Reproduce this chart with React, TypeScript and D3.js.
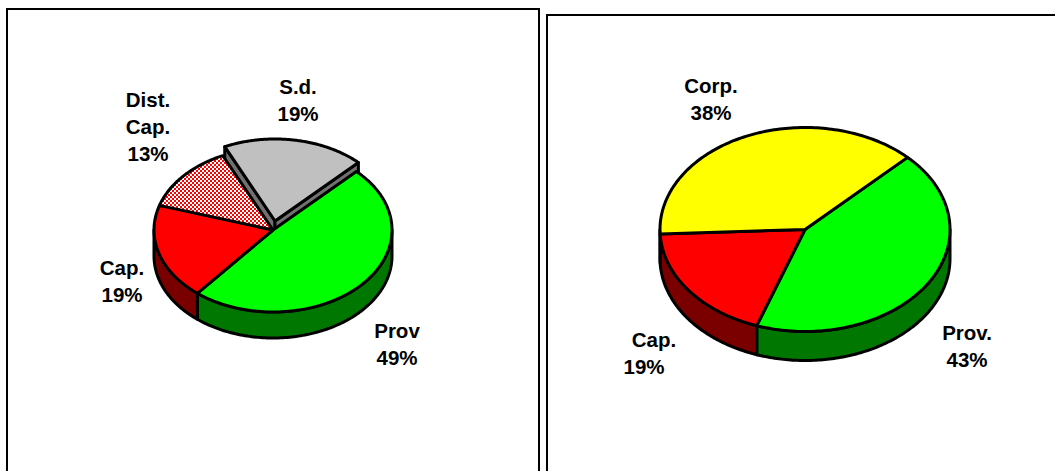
import React from "react";
import * as d3 from "d3";

const leftCategories = ["Prov", "Cap.", "Dist. Cap.", "S.d."];
const leftValues = [48.6, 18.9, 13.2, 19.3];
const leftFills = ["#00ff00", "#ff0000", "url(#checks)", "#c0c0c0"];
const leftWalls = ["#007800", "#7a0000", "#7a0000", "#707070"];

const rightCategories = ["Prov.", "Cap.", "Corp."];
const rightValues = [42.9, 18.9, 38.2];
const rightFills = ["#00ff00", "#ff0000", "#ffff00"];
const rightWalls = ["#007800", "#7a0000", "#808000"];

type Label = { lines: string[]; x: number[]; y: number };
const leftLabels: Label[] = [
  { lines: ["S.d.", "19%"], x: [298, 298], y: 94 },
  { lines: ["Dist.", "Cap.", "13%"], x: [148, 148, 148], y: 106.5 },
  { lines: ["Cap.", "19%"], x: [122, 122], y: 275 },
  { lines: ["Prov", "49%"], x: [397, 397], y: 338 },
];
const rightLabels: Label[] = [
  { lines: ["Corp.", "38%"], x: [711, 711], y: 93 },
  { lines: ["Cap.", "19%"], x: [654, 644], y: 347 },
  { lines: ["Prov.", "43%"], x: [967, 967], y: 340 },
];

const line = d3.line<[number, number]>();
const rad = (d: number) => (d * Math.PI) / 180;

function Pie3D(props: {
  values: number[]; fills: string[]; walls: string[]; names: string[];
  cx: number; cy: number; rx: number; ry: number; depth: number; start: number;
  exploded?: number; dx?: number; dy?: number;
}) {
  const { values, fills, walls, names, cx, cy, rx, ry, depth, start, exploded = -1, dx = 0, dy = 0 } = props;
  const x = d3.scaleLinear().domain([-1, 1]).range([cx - rx, cx + rx]);
  const y = d3.scaleLinear().domain([-1, 1]).range([cy - ry, cy + ry]);
  const arcs = d3.pie<number>().sort(null).startAngle(rad(start)).endAngle(rad(start) + 2 * Math.PI)(values);
  const pt = (a: number, ox = 0, oy = 0): [number, number] => [x(Math.sin(a)) + ox, y(-Math.cos(a)) + oy];
  const sample = (a0: number, a1: number, ox = 0, oy = 0) =>
    d3.range(0, 121).map((i) => pt(a0 + ((a1 - a0) * i) / 120, ox, oy));

  const normal = arcs.map((a, i) => ({ a, i })).filter((d) => d.i !== exploded);
  const ex = exploded >= 0 ? arcs[exploded] : null;

  return (
    <g stroke="#000" strokeWidth={3} strokeLinejoin="round">
      {ex && (
        <g>
          {[ex.startAngle, ex.endAngle].map((a, k) => (
            <path key={k} fill={walls[exploded]} d={line([
              [cx + dx, cy + dy], pt(a, dx, dy), pt(a, dx, dy + depth), [cx + dx, cy + dy + depth],
            ])! + "Z"} />
          ))}
          <path fill={fills[exploded]} data-name={names[exploded]}
            d={line([[cx + dx, cy + dy], ...sample(ex.startAngle, ex.endAngle, dx, dy)])! + "Z"} />
        </g>
      )}
      {normal.map(({ a, i }) => {
        // The rim is visible only on the front half of the ellipse.
        const lo = Math.max(Math.PI / 2, a.startAngle);
        const hi = Math.min((3 * Math.PI) / 2, a.endAngle);
        if (hi <= lo) return null;
        return (
          <path key={"w" + i} fill={walls[i]} d={line([
            ...sample(lo, hi), ...sample(lo, hi, 0, depth).reverse(),
          ])! + "Z"} />
        );
      })}
      {normal.map(({ a, i }) => (
        <path key={"t" + i} fill={fills[i]} data-name={names[i]}
          d={line([[cx, cy], ...sample(a.startAngle, a.endAngle)])! + "Z"} />
      ))}
    </g>
  );
}

function Labels({ items }: { items: Label[] }) {
  return (
    <g fontFamily="'Liberation Sans', Arial, sans-serif" fontWeight="bold" fontSize={20.5} textAnchor="middle" fill="#000">
      {items.map((l, i) =>
        l.lines.map((t, j) => (
          <text key={i + "-" + j} x={l.x[j]} y={l.y + j * 27.2}>{t}</text>
        ))
      )}
    </g>
  );
}

export default function App() {
  return (
    <svg width={1055} height={471} style={{ position: "absolute", left: 0, top: 0, background: "#fff" }}>
      <defs>
        <pattern id="checks" width={4} height={4} patternUnits="userSpaceOnUse">
          <rect width={4} height={4} fill="#ff0000" />
          <rect x={0} y={0} width={2} height={2} fill="#fff" />
          <rect x={2} y={2} width={2} height={2} fill="#fff" />
        </pattern>
      </defs>
      <rect x={7} y={9} width={532} height={600} fill="#fff" stroke="#000" strokeWidth={2} />
      <rect x={547} y={15} width={600} height={600} fill="#fff" stroke="#000" strokeWidth={2} />
      <Pie3D values={leftValues} fills={leftFills} walls={leftWalls} names={leftCategories}
        cx={273} cy={230} rx={119} ry={82} depth={26} start={44.5} exploded={3} dx={2} dy={-9} />
      <Pie3D values={rightValues} fills={rightFills} walls={rightWalls} names={rightCategories}
        cx={805} cy={229.5} rx={145} ry={102} depth={29} start={45} />
      <Labels items={leftLabels} />
      <Labels items={rightLabels} />
    </svg>
  );
}
